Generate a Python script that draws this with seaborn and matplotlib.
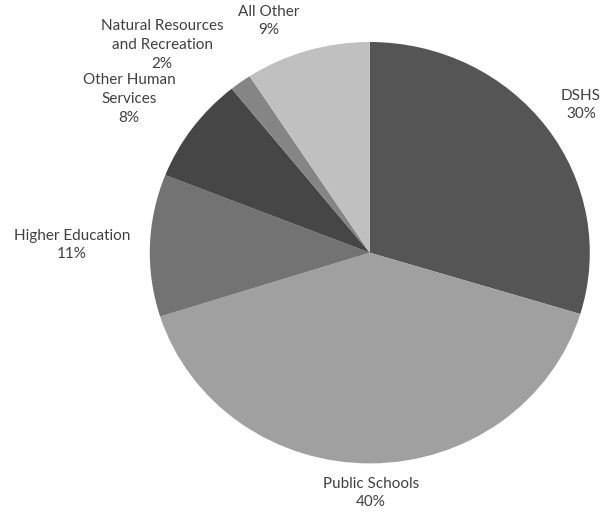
import matplotlib
matplotlib.use("Agg")
import matplotlib.pyplot as plt
import seaborn as sns

# Spending shares by program area (percent of total)
categories = ["DSHS", "Public Schools", "Higher Education",
              "Other Human\nServices", "Natural Resources\nand Recreation", "All Other"]
shares = [29.7, 40.4, 10.9, 8.2, 1.6, 9.2]
slice_colors = ["#555555", "#a0a0a0", "#737373", "#464646", "#858585", "#c0c0c0"]

# Label anchor points in pixels (x from left, y from top)
label_xy = [(581, 105), (371, 493), (72, 245), (129, 99), (162, 45), (269, 21)]

sns.set_style("white")
plt.rcParams["font.family"] = ["Lato", "DejaVu Sans"]

W, H = 602, 512
fig = plt.figure(figsize=(W / 100, H / 100), dpi=100)
ax = fig.add_axes([0, 0, 1, 1])

palette = sns.color_palette(slice_colors)
ax.pie(shares, colors=palette, startangle=90, counterclock=False,
       radius=1.0, wedgeprops=dict(linewidth=0))

# Pie center and radii in pixels; the pie is drawn slightly wider than tall
cx, cy, rx, ry = 369.8, 252.7, 220.0, 210.7
ax.set_aspect("auto")
ax.set_xlim(-cx / rx, (W - cx) / rx)
ax.set_ylim(-(H - cy) / ry, cy / ry)
ax.axis("off")

for name, val, (px, py) in zip(categories, shares, label_xy):
    ax.text(px / W, 1 - py / H, f"{name}\n{round(val)}%", transform=ax.transAxes,
            ha="center", va="center", multialignment="center",
            fontsize=11, color="#404040", linespacing=1.45)

fig.savefig("out.png", dpi=100)
